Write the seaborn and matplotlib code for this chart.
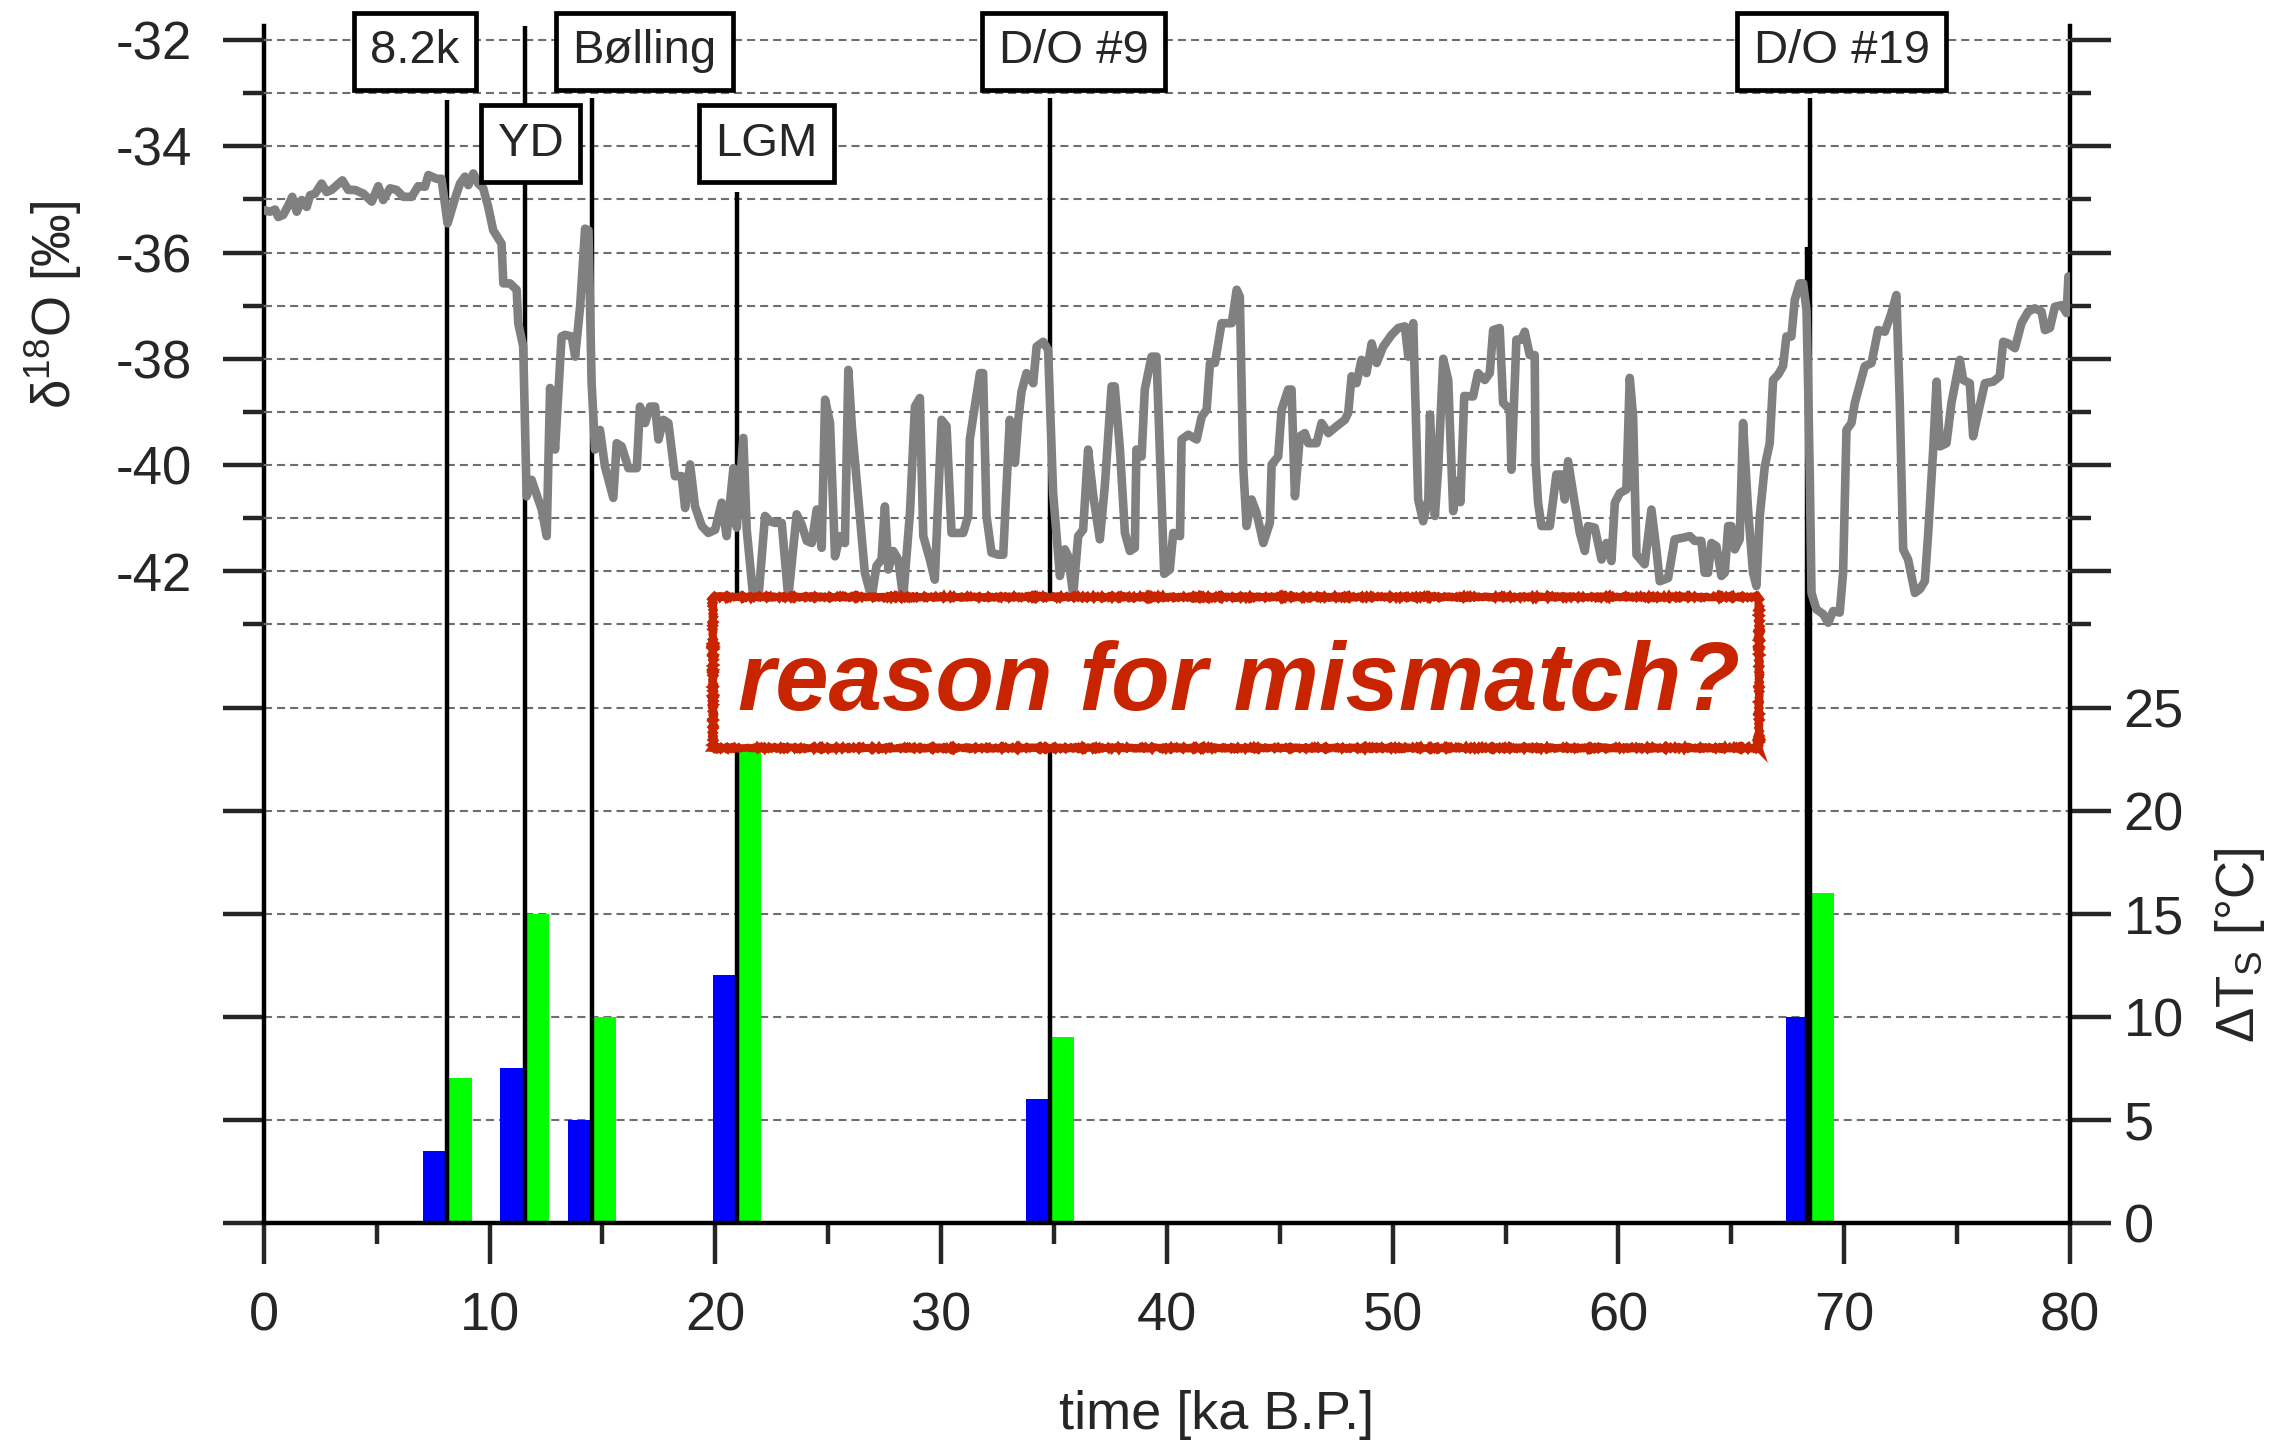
import numpy as np
import pandas as pd
import matplotlib
matplotlib.use("Agg")
import matplotlib.pyplot as plt
from matplotlib.patches import Rectangle
import seaborn as sns

# ---------------------------------------------------------------- data
# Greenland ice-core delta-18O record, 0-80 ka B.P.
time_ka = [
    0.00, 0.27, 0.50, 0.64, 0.86, 1.09, 1.26, 1.46, 1.68, 1.90, 2.05, 2.27, 2.56, 2.78,
    3.00, 3.48, 3.74, 4.04, 4.41, 4.78, 5.07, 5.29, 5.59, 5.88, 6.18, 6.55, 6.84, 7.14,
    7.29, 7.65, 7.87, 8.14, 8.47, 8.69, 8.91, 9.06, 9.28, 9.50, 9.72, 9.94, 10.16, 10.53,
    10.61, 10.90, 11.20, 11.27, 11.49, 11.64, 11.86, 12.31, 12.53, 12.68, 12.90, 13.19,
    13.34, 13.64, 13.79, 14.01, 14.23, 14.38, 14.52, 14.67, 14.89, 15.11, 15.48, 15.63,
    15.85, 16.15, 16.52, 16.66, 16.89, 17.11, 17.33, 17.48, 17.70, 17.92, 18.21, 18.51,
    18.66, 18.88, 19.10, 19.40, 19.69, 19.99, 20.28, 20.50, 20.65, 20.80, 20.95, 21.24,
    21.39, 21.68, 21.90, 22.20, 22.42, 22.64, 22.94, 23.23, 23.60, 23.82, 24.05, 24.27,
    24.49, 24.71, 24.86, 25.08, 25.30, 25.52, 25.74, 25.89, 26.05, 26.40, 26.62, 26.92,
    27.14, 27.36, 27.51, 27.66, 27.88, 28.10, 28.32, 28.62, 28.84, 29.06, 29.21, 29.50,
    29.72, 30.02, 30.24, 30.46, 30.76, 30.98, 31.20, 31.27, 31.49, 31.72, 31.86, 32.01,
    32.23, 32.53, 32.75, 33.04, 33.27, 33.41, 33.56, 33.78, 34.08, 34.23, 34.52, 34.74,
    34.96, 35.26, 35.48, 35.63, 35.85, 36.07, 36.29, 36.51, 36.74, 37.03, 37.25, 37.55,
    37.69, 37.92, 38.14, 38.36, 38.58, 38.65, 38.88, 39.02, 39.32, 39.54, 39.88, 40.13,
    40.28, 40.58, 40.65, 40.95, 41.32, 41.54, 41.76, 41.91, 42.13, 42.42, 42.87, 43.09,
    43.23, 43.38, 43.53, 43.75, 43.97, 44.27, 44.56, 44.64, 44.93, 45.08, 45.37, 45.52,
    45.67, 45.89, 46.11, 46.26, 46.63, 46.85, 47.15, 47.52, 47.88, 48.03, 48.18, 48.40,
    48.62, 48.84, 49.07, 49.29, 49.58, 49.95, 50.25, 50.54, 50.69, 50.91, 51.13, 51.35,
    51.58, 51.65, 51.87, 52.02, 52.24, 52.46, 52.68, 52.85, 53.00, 53.17, 53.56, 53.78,
    54.08, 54.30, 54.45, 54.74, 54.89, 55.19, 55.26, 55.48, 55.70, 55.85, 56.07, 56.29,
    56.33, 56.44, 56.59, 56.96, 57.25, 57.47, 57.62, 57.77, 58.06, 58.29, 58.51, 58.65,
    58.95, 59.25, 59.47, 59.69, 59.84, 60.06, 60.35, 60.50, 60.65, 60.80, 61.16, 61.46,
    61.68, 61.83, 62.20, 62.49, 62.86, 63.16, 63.38, 63.67, 63.82, 63.97, 64.12, 64.34,
    64.56, 64.71, 64.86, 65.00, 65.15, 65.37, 65.52, 65.74, 65.96, 66.11, 66.26, 66.48,
    66.70, 66.85, 67.07, 67.29, 67.44, 67.66, 67.81, 68.03, 68.18, 68.33, 68.40, 68.48,
    68.55, 68.77, 69.07, 69.29, 69.51, 69.80, 69.95, 70.10, 70.32, 70.47, 70.91, 71.21,
    71.50, 71.80, 72.09, 72.31, 72.46, 72.61, 72.83, 73.13, 73.35, 73.57, 73.72, 73.94,
    74.09, 74.24, 74.53, 74.75, 75.12, 75.27, 75.56, 75.71, 75.93, 76.23, 76.60, 76.89,
    77.04, 77.26, 77.56, 77.85, 78.15, 78.44, 78.74, 78.89, 79.11, 79.33, 79.63, 79.85,
    79.93, 80.00,
]
d18o_permil = [
    -35.20, -35.23, -35.19, -35.33, -35.29, -35.11, -34.95, -35.23, -35.01, -35.14, -34.92, -34.89, -34.70, -34.86,
    -34.82, -34.64, -34.82, -34.82, -34.89, -35.04, -34.75, -35.01, -34.79, -34.82, -34.95, -34.95, -34.75, -34.76,
    -34.54, -34.61, -34.61, -35.45, -34.98, -34.70, -34.57, -34.73, -34.51, -34.70, -34.79, -35.14, -35.58, -35.83,
    -36.58, -36.58, -36.70, -37.33, -37.77, -40.59, -40.28, -40.84, -41.34, -38.55, -39.71, -37.58,
    -37.55, -37.58, -37.96, -37.02, -35.55, -35.58, -38.46, -39.71, -39.34, -40.03, -40.62, -39.59,
    -39.65, -40.06, -40.06, -38.90, -39.21, -38.90, -38.90, -39.52, -39.15, -39.21, -40.21, -40.21,
    -40.81, -39.99, -40.78, -41.15, -41.28, -41.22, -40.71, -41.34, -40.71, -40.06, -41.18, -39.49,
    -41.22, -42.50, -42.55, -40.96, -41.06, -41.09, -41.09, -42.50, -40.93, -41.12, -41.43, -41.47,
    -40.84, -41.56, -38.77, -39.21, -41.72, -41.34, -41.47, -38.21, -39.30, -40.96, -42.03, -42.50,
    -41.90, -41.78, -40.78, -41.97, -41.62, -41.78, -42.50, -40.90, -38.90, -38.74, -41.34, -41.78,
    -42.16, -39.15, -39.27, -41.28, -41.28, -41.28, -40.96, -39.52, -38.90, -38.27, -38.27, -40.96,
    -41.65, -41.69, -41.69, -39.15, -39.96, -39.18, -38.62, -38.27, -38.46, -37.77, -37.68, -37.83,
    -40.53, -42.09, -41.59, -41.72, -42.45, -41.34, -41.22, -39.71, -40.59, -41.40, -40.40, -38.52,
    -38.52, -39.71, -41.28, -41.62, -41.56, -39.71, -39.84, -38.58, -37.96, -37.96, -42.05, -41.97,
    -41.28, -41.34, -39.52, -39.43, -39.52, -39.09, -38.96, -38.08, -38.08, -37.33, -37.33, -36.70,
    -36.83, -40.03, -41.15, -40.65, -40.90, -41.47, -41.09, -39.99, -39.84, -38.96, -38.58, -38.58,
    -40.59, -39.46, -39.40, -39.59, -39.59, -39.21, -39.40, -39.27, -39.15, -39.02, -38.33, -38.46,
    -38.02, -38.27, -37.71, -38.08, -37.77, -37.55, -37.42, -37.39, -37.96, -37.33, -40.65, -41.06,
    -40.65, -39.05, -40.96, -40.03, -38.00, -38.40, -40.87, -40.30, -40.70, -38.70, -38.71, -38.27,
    -38.40, -38.27, -37.46, -37.42, -38.83, -38.96, -40.09, -37.64, -37.64, -37.49, -37.93, -37.93,
    -39.93, -40.71, -41.15, -41.15, -40.18, -40.18, -40.65, -39.93, -40.71, -41.28, -41.62, -41.15,
    -41.18, -41.78, -41.47, -41.81, -40.71, -40.53, -40.46, -38.36, -39.09, -41.69, -41.87, -40.84,
    -41.59, -42.19, -42.13, -41.40, -41.37, -41.34, -41.43, -41.43, -42.03, -42.03, -41.47, -41.53,
    -42.09, -42.03, -41.15, -41.15, -41.59, -41.40, -39.21, -40.84, -42.03, -42.28, -40.96, -40.03,
    -39.59, -38.40, -38.30, -38.14, -37.58, -37.58, -36.89, -36.58, -36.58, -37.08, -38.46, -40.34,
    -42.41, -42.72, -42.81, -42.97, -42.75, -42.78, -42.03, -39.34, -39.21, -38.83, -38.14, -38.08,
    -37.46, -37.49, -37.14, -36.80, -38.83, -41.59, -41.78, -42.41, -42.34, -42.19, -41.28, -39.71,
    -38.43, -39.65, -39.59, -38.83, -38.02, -38.40, -38.46, -39.46, -39.02, -38.46, -38.43, -38.33,
    -37.68, -37.71, -37.80, -37.33, -37.11, -37.05, -37.11, -37.46, -37.42, -37.02, -36.99, -37.14,
    -36.45, -36.70,
]

# Climate events and surface-temperature changes (two estimates per event)
event_names = ["8.2k", "YD", "Bølling", "LGM", "D/O #9", "D/O #19"]
event_ka = [8.13, 11.55, 14.53, 20.97, 34.82, 68.49]
dT_lower = [3.5, 7.5, 5.0, 12.0, 6.0, 10.0]
dT_upper = [7.0, 15.0, 10.0, 25.0, 9.0, 16.0]

# event marker lines: upper end on the delta-18O scale
marker_top = [-33.12, -31.73, -33.09, -34.86, -33.09, -33.09]
# extra marker at the D/O #19 onset
onset_ka = [68.33]
onset_top = [-35.89]

# event labels: horizontal position (ka) and row level (delta-18O)
label_ka = [6.70, 11.82, 16.87, 22.26, 35.88, 69.88]
label_level = [-32.21, -33.95, -32.21, -33.95, -32.21, -32.21]

note_text = "reason for mismatch?"

# ---------------------------------------------------------------- style
sns.set_style("ticks")
plt.rcParams.update({
    "font.family": ["Liberation Sans", "DejaVu Sans"],
    "mathtext.fontset": "custom",
    "mathtext.rm": "Liberation Sans",
    "mathtext.it": "Liberation Sans:italic",
    "mathtext.bf": "Liberation Sans:bold",
    "axes.unicode_minus": False,
    "lines.scale_dashes": False,
})

W, H = 2282, 1443
fig = plt.figure(figsize=(W / 100, H / 100), dpi=100)
left, right, bottom, top = 263.8, 2070.0, 1222.6, 26.0
ax = fig.add_axes([left / W, 1 - bottom / H, (right - left) / W, (bottom - top) / H])
axD = ax.twinx()

DT_LIM = (0.0, 58.09)
D18O_LIM = (-54.268, -31.733)
AXIS_LW = 3.2
grid_kw = dict(linestyle=(0, (5.8, 3.6)), color="#6e6e6e", linewidth=1.5)

# ---------------------------------------------------------------- bars (delta T)
bars = pd.DataFrame({
    "time": event_ka + event_ka,
    "dT": dT_lower + dT_upper,
    "estimate": ["lower"] * len(event_ka) + ["upper"] * len(event_ka),
})
pair_span = 2.32  # ka covered by one blue/green pair
native_unit = np.diff(np.sort(event_ka)).min()
sns.barplot(data=bars, x="time", y="dT", hue="estimate", hue_order=["lower", "upper"],
            palette=["#0000FF", "#00FF00"], saturation=1, native_scale=True,
            dodge=True, width=pair_span / native_unit, gap=0.155, errorbar=None,
            legend=False, linewidth=0, orient="x", ax=ax)

# ---------------------------------------------------------------- delta-18O curve
sns.lineplot(x=time_ka, y=d18o_permil, ax=axD, color="#808080", linewidth=6.2,
             estimator=None, sort=False, zorder=3)

# event marker lines
axD.vlines(event_ka, D18O_LIM[0], marker_top, colors="black", linewidth=3.2, zorder=2)
axD.vlines(onset_ka, D18O_LIM[0], onset_top, colors="black", linewidth=3.2, zorder=2)

# event labels
for name, x, y in zip(event_names, label_ka, label_level):
    axD.text(x, y, name, ha="center", va="center", fontsize=34, zorder=6, clip_on=False,
             bbox=dict(boxstyle="square,pad=0.35", fc="white", ec="black", lw=3.4))

# highlighted question
RED = "#C82400"
note_box = Rectangle((19.89, -45.33), 46.33, 2.844, fc="white", ec=RED, lw=5.4, zorder=7)
note_box.set_sketch_params(scale=0.8, length=2.0, randomness=2.0)
axD.add_patch(note_box)
axD.text(43.21, -44.61, note_text, ha="center", va="baseline", fontsize=69,
         fontweight="bold", fontstyle="italic", color=RED, zorder=8)

# ---------------------------------------------------------------- axes
ax.set_xlim(0, 80)
ax.set_ylim(*DT_LIM)
axD.set_ylim(*D18O_LIM)

ax.set_xticks(np.arange(0, 81, 10))
ax.set_xticks(np.arange(5, 80, 10), minor=True)
ax.set_xticklabels([str(v) for v in range(0, 81, 10)])
ax.tick_params(axis="x", which="major", direction="out", length=29.5, width=AXIS_LW,
               pad=20, labelsize=39, top=False)
ax.tick_params(axis="x", which="minor", direction="out", length=15, width=AXIS_LW, top=False)

ax.set_yticks([0, 5, 10, 15, 20, 25])
ax.set_yticklabels(["0", "5", "10", "15", "20", "25"])
ax.tick_params(axis="y", which="major", direction="out", left=True, right=True,
               labelleft=False, labelright=True, length=29.5, width=AXIS_LW, pad=9,
               labelsize=39)

axD.set_yticks(np.arange(-42, -31, 2))
axD.set_yticks(np.arange(-43, -32, 2), minor=True)
axD.set_yticklabels([str(v) for v in range(-42, -31, 2)])
axD.tick_params(axis="y", which="major", direction="out", left=True, right=True,
                labelleft=True, labelright=False, length=29.5, width=AXIS_LW, pad=22,
                labelsize=38)
axD.tick_params(axis="y", which="minor", direction="out", left=True, right=True,
                length=15, width=AXIS_LW)

# dashed horizontal grid on both scales
ax.set_axisbelow(True)
axD.set_axisbelow(True)
ax.grid(False)
ax.yaxis.grid(True, which="major", **grid_kw)
axD.grid(False)
axD.yaxis.grid(True, which="both", **grid_kw)

for side in ["left", "right", "bottom"]:
    ax.spines[side].set_linewidth(AXIS_LW)
    ax.spines[side].set_color("black")
ax.spines["top"].set_visible(False)
for side in axD.spines:
    axD.spines[side].set_visible(False)

ax.set_xlabel("time [ka B.P.]", fontsize=39)
ax.xaxis.set_label_coords(0.5275, -0.14)
ax.set_ylabel(r"ΔT$_\mathrm{S}$ [°C]", fontsize=38)
ax.yaxis.set_label_position("right")
ax.yaxis.set_label_coords(1.0792, 0.232)
axD.set_xlabel("")
axD.set_ylabel(r"δ$^{18}$O [‰]", fontsize=38)
axD.yaxis.set_label_position("left")
axD.yaxis.set_label_coords(-0.0995, 0.767)

fig.savefig("out.png", dpi=100)
